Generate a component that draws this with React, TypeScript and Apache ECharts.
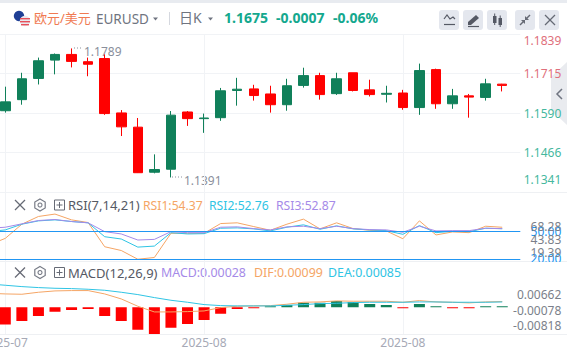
import React, { useEffect, useRef } from "react";
import * as echarts from "echarts";

// [open, close, low, high]
const candles = [
  [1.1598, 1.1626, 1.1592, 1.1674], [1.1633, 1.1699, 1.1617, 1.1718], [1.1700, 1.1756, 1.1681, 1.1766],
  [1.1758, 1.1776, 1.1713, 1.1779], [1.1776, 1.1754, 1.1735, 1.1795], [1.1753, 1.1745, 1.1707, 1.1766],
  [1.1763, 1.1589, 1.1585, 1.1776], [1.1591, 1.1547, 1.1518, 1.1600], [1.1546, 1.1402, 1.1401, 1.1575],
  [1.14035, 1.1412, 1.1400, 1.1460], [1.1413, 1.1584, 1.1387, 1.1597], [1.1594, 1.1573, 1.1550, 1.1597],
  [1.1573, 1.1575, 1.1528, 1.1589], [1.1576, 1.1661, 1.1566, 1.1670], [1.1662, 1.1666, 1.1614, 1.1702],
  [1.1667, 1.1646, 1.1630, 1.1680], [1.1651, 1.1617, 1.1592, 1.1677], [1.1617, 1.1677, 1.1598, 1.1699],
  [1.1678, 1.1709, 1.1671, 1.1734], [1.1709, 1.1649, 1.1633, 1.1718], [1.1652, 1.1699, 1.1648, 1.1718],
  [1.1718, 1.1662, 1.1659, 1.1718], [1.1664, 1.1649, 1.1643, 1.1696], [1.1650, 1.1653, 1.1624, 1.1677],
  [1.1654, 1.1608, 1.1601, 1.1664], [1.1608, 1.1725, 1.1585, 1.1747], [1.1728, 1.1620, 1.1604, 1.1731],
  [1.1620, 1.1645, 1.1604, 1.1667], [1.1645, 1.1641, 1.1576, 1.1651], [1.1640, 1.1683, 1.1630, 1.1699],
  [1.1682, 1.1678, 1.1659, 1.1683],
];
// Indicator lines start one session before the first visible candle.
const rsi1 = [35, 42.3, 57.7, 66.1, 68.7, 62.4, 59.5, 33.2, 29.1, 19.6, 21.5, 47.8, 47.8, 47.8, 58.4, 59.2, 55.1, 51.1, 57.7, 63.2, 52.6, 59.2, 52.9, 51.1, 50.4, 41.9, 61.3, 46.0, 49.3, 48.5, 55.5, 54.37];
const rsi2 = [49.6, 51.5, 57.7, 61.3, 62.4, 60.6, 59.2, 44.1, 41.6, 32.8, 33.9, 48.5, 47.1, 47.4, 53.3, 53.7, 52.6, 50.4, 54.4, 57.0, 52.2, 55.9, 52.6, 51.5, 50.7, 46.7, 56.2, 48.5, 50.0, 49.6, 53.3, 52.76];
const rsi3 = [53.3, 54.4, 58.1, 61.7, 62.8, 60.6, 59.2, 49.6, 47.1, 40.5, 41.2, 49.6, 48.5, 48.5, 54.4, 54.8, 52.9, 51.5, 54.8, 55.5, 52.9, 55.5, 52.9, 51.8, 51.5, 48.9, 55.5, 50.4, 50.7, 50.7, 53.3, 52.87];
const dif = [0.00428, 0.00408, 0.00398, 0.00459, 0.0050, 0.0051, 0.0051, 0.00408, 0.00255, 0.00031, -0.00143, -0.00143, -0.00133, -0.00112, -0.0001, 0.00031, 0.00041, 0.00051, 0.00092, 0.00153, 0.00163, 0.00194, 0.00184, 0.00184, 0.00184, 0.00153, 0.00204, 0.00163, 0.00153, 0.00133, 0.00163, 0.00173];
const dea = [0.00714, 0.00673, 0.00632, 0.00602, 0.00581, 0.00571, 0.00551, 0.0052, 0.00459, 0.00388, 0.00296, 0.00214, 0.00153, 0.00082, 0.00051, 0.00041, 0.00041, 0.00041, 0.00061, 0.00082, 0.00112, 0.00122, 0.00143, 0.00153, 0.00153, 0.00153, 0.00163, 0.00163, 0.00153, 0.00153, 0.00153, 0.00163];
const macd = [-0.0053, -0.0042, -0.0027, -0.0014, -0.0008, -0.0005, -0.0027, -0.0042, -0.0069, -0.0082, -0.0063, -0.0051, -0.0039, -0.0020, -0.0005, -0.0003, 0.0003, 0.0007, 0.0014, 0.0014, 0.0019, 0.0016, 0.0010, 0.0007, -0.0003, 0.0010, 0.0003, -0.0003, -0.0003, 0.0003, 0.00028];

const priceTicks = [1.1341, 1.1466, 1.1590, 1.1715, 1.1839];
const rsiLevels = [20, 50];
const rsiTicks = [19.39, 43.83, 68.28];
const macdTicks = [-0.00818, -0.00078, 0.00662];
const dateTicks = [0, 12, 24];
const dateLabels = ["2025-07", "2025-08", "2025-08"];

const RED = "#ff0000";
const GREEN = "#10805a";
const ORANGE = "#f5a565";
const CYAN = "#2fc4e4";
const PURPLE = "#a58ae8";
const BLUE = "#2196f3";
const GRID = "#f1f3f6";
const FONT = '"Noto Sans", "Noto Sans CJK SC", sans-serif';

const xRange = { min: -0.32, max: 31.09 };
const gridBox = (top: number, bottom: number) => ({ left: 0, width: 520.3, top, height: bottom - top, outerBoundsMode: "none" });

const txt = (x: number, y: number, text: string, fill: string, size = 13, weight = "normal", textAlign = "left") => ({
  type: "text", x, y, silent: true,
  style: { text, fill, textAlign, textVerticalAlign: "middle", font: `${weight} ${size}px ${FONT}` },
});
const ln = (x1: number, y1: number, x2: number, y2: number, stroke: string, lineWidth = 1, extra: any = {}) => ({
  type: "line", silent: true, shape: { x1, y1, x2, y2 }, style: { stroke, lineWidth, ...extra },
});
const btn = (x: number) => ({ type: "rect", silent: true, shape: { x, y: 10, width: 20, height: 20, r: 3 }, style: { fill: "#e4e7ee" } });
const tools = (y: number) => [
  ln(15, y - 5, 25, y + 5, "#666a75", 1.2), ln(25, y - 5, 15, y + 5, "#666a75", 1.2),
  { type: "polygon", silent: true, shape: { points: [[40, y - 6], [45.2, y - 3], [45.2, y + 3], [40, y + 6], [34.8, y + 3], [34.8, y - 3]] }, style: { fill: "none", stroke: "#777b86", lineWidth: 1.2 } },
  { type: "circle", silent: true, shape: { cx: 40, cy: y, r: 2 }, style: { fill: "none", stroke: "#777b86", lineWidth: 1.1 } },
  { type: "rect", silent: true, shape: { x: 54.5, y: y - 5, width: 10, height: 10 }, style: { fill: "none", stroke: "#666a75", lineWidth: 1 } },
  ln(56.5, y, 62.5, y, "#666a75"), ln(59.5, y - 3, 59.5, y + 3, "#666a75"),
];

const graphicElements: any[] = [
  { type: "rect", silent: true, shape: { x: 0, y: 0, width: 567, height: 3 }, style: { fill: "#e8ebf0" } },
  ln(0, 34.5, 520, 34.5, GRID), ln(0, 192.5, 567, 192.5, "#eef0f3"), ln(0, 261.5, 567, 261.5, "#eef0f3"), ln(0, 334.5, 567, 334.5, "#eef0f3"),
  // clips the lower RSI level label at the pane edge
  { type: "rect", silent: true, z: 50, shape: { x: 521, y: 262, width: 46, height: 9 }, style: { fill: "#ffffff" } },
  // flags
  { type: "circle", silent: true, shape: { cx: 19, cy: 16, r: 5.2 }, style: { fill: "#1f3f95" } },
  { type: "circle", silent: true, shape: { cx: 25, cy: 21, r: 5.2 }, style: { fill: "#e8e8ee" } },
  { type: "rect", silent: true, shape: { x: 20, y: 18, width: 10, height: 1.4 }, style: { fill: "#e8505a" } },
  { type: "rect", silent: true, shape: { x: 20, y: 21, width: 10, height: 1.4 }, style: { fill: "#e8505a" } },
  { type: "rect", silent: true, shape: { x: 21, y: 24, width: 8, height: 1.4 }, style: { fill: "#e8505a" } },
  txt(34, 18, "欧元/美元", "#f07a52", 13),
  txt(96, 19, "EURUSD", "#6f7480", 13.5),
  { type: "polygon", silent: true, shape: { points: [[153, 17.5], [158, 17.5], [155.5, 20.5]] }, style: { fill: "#6f7480" } },
  ln(169.5, 12, 169.5, 25, "#d5d8df"),
  txt(179, 17, "日K", "#6f7480", 14),
  { type: "polygon", silent: true, shape: { points: [[208, 17.5], [213, 17.5], [210.5, 20.5]] }, style: { fill: "#6f7480" } },
  txt(224, 17, "1.1675", "#14a88e", 14, "bold"),
  txt(276, 17, "-0.0007", "#14a88e", 14, "bold"),
  txt(333, 17, "-0.06%", "#14a88e", 14, "bold"),
  btn(439), btn(463), btn(487), btn(515), btn(539),
  { type: "polyline", silent: true, shape: { points: [[444, 19], [447, 15], [450, 19], [453, 17], [455, 19]] }, style: { fill: "none", stroke: "#555964", lineWidth: 1.2 } },
  ln(444, 24.5, 455, 24.5, "#555964", 1.2),
  { type: "polygon", silent: true, shape: { points: [[468, 22], [476, 15], [479, 18], [471, 25], [468, 25]] }, style: { fill: "#555964" } },
  ln(468, 26.5, 479, 26.5, "#555964", 1.2),
  { type: "rect", silent: true, shape: { x: 493, y: 16, width: 3.5, height: 7 }, style: { fill: "#555964" } },
  { type: "rect", silent: true, shape: { x: 498.5, y: 18, width: 3.5, height: 7 }, style: { fill: "#555964" } },
  ln(494.7, 13.5, 494.7, 25, "#555964"), ln(500.2, 15.5, 500.2, 27, "#555964"),
  ln(520, 25, 524, 21, "#666a75", 1.5), ln(526, 19, 530, 15, "#666a75", 1.5),
  { type: "polygon", silent: true, shape: { points: [[521, 20], [525, 20], [525, 24]] }, style: { fill: "#666a75" } },
  { type: "polygon", silent: true, shape: { points: [[525, 16], [529, 20], [525, 20]] }, style: { fill: "#666a75" } },
  ln(545, 15, 555, 25, "#666a75", 1.2), ln(555, 15, 545, 25, "#666a75", 1.2),
  { type: "polygon", silent: true, shape: { points: [[567, 62], [551, 77], [551, 110], [567, 125]] }, style: { fill: "#e9ebef" } },
  { type: "polyline", silent: true, shape: { points: [[562, 89], [557, 94], [562, 99]] }, style: { fill: "none", stroke: "#6f7480", lineWidth: 1.5 } },
  // extreme markers
  ln(74, 48, 83, 48, "#8a8f9c", 1, { lineDash: [1, 2] }), txt(84, 51, "1.1789", "#8a8f9c", 12),
  ln(172, 177, 182, 177, "#8a8f9c", 1, { lineDash: [1, 2] }), txt(184, 180, "1.1391", "#8a8f9c", 12),
  // RSI legend
  ...tools(205),
  txt(68, 205, "RSI(7,14,21)", "#555964", 13),
  txt(143, 205, "RSI1:54.37", ORANGE, 12.2), txt(209, 205, "RSI2:52.76", CYAN, 12.2), txt(276, 205, "RSI3:52.87", PURPLE, 12.2),
  // MACD legend
  ...tools(272.5),
  txt(68, 272.5, "MACD(12,26,9)", "#555964", 13),
  txt(161, 272.5, "MACD:0.00028", PURPLE, 12.4), txt(254, 272.5, "DIF:0.00099", ORANGE, 12.4), txt(328, 272.5, "DEA:0.00085", CYAN, 12.4),
];

const hiddenX = (gridIndex: number, split = true) => ({
  type: "value", gridIndex, ...xRange,
  axisLine: { show: false }, axisLabel: { show: false },
  axisTick: { show: false, customValues: dateTicks },
  splitLine: { show: split, lineStyle: { color: GRID, width: 1 } },
});

const labelAxis = (gridIndex: number, min: number, max: number, ticks: number[], digits: number, color: any, extra: any = {}) => ({
  type: "value", gridIndex, position: "right", min, max,
  axisLine: { show: false },
  axisTick: { show: false, customValues: ticks },
  splitLine: { show: false },
  axisLabel: {
    customValues: ticks, align: "right", margin: 41, color,
    fontFamily: FONT, fontSize: 12, showMinLabel: true, showMaxLabel: true, hideOverlap: false,
    formatter: (v: any) => Number(v).toFixed(digits),
  },
  ...extra,
});

const xy = (arr: number[], first: number) => arr.map((v, i) => [i + first, v]);
const lineSeries = (name: string, data: number[], color: string, xAxisIndex: number, yAxisIndex: number, extra: any = {}) => ({
  name, type: "line", xAxisIndex, yAxisIndex, data: xy(data, -1), showSymbol: false, symbol: "none",
  lineStyle: { color, width: 1 }, itemStyle: { color }, z: 3, ...extra,
});

// A custom series, since bar series widen a value axis' extent past its set min and max.
const renderMacdBar = (_params: any, api: any) => {
  const i = api.value(0);
  const v = api.value(1);
  const [x, y0] = api.coord([i, 0]);
  const [, y1] = api.coord([i, v]);
  const h = Math.abs(y1 - y0);
  return {
    type: "rect",
    shape: { x: x - 5.5, y: Math.min(y0, y1), width: 11, height: Math.max(h, 1) },
    style: { fill: v < 0 ? RED : GREEN },
  };
};

export default function App() {
  const ref = useRef<HTMLDivElement>(null);
  useEffect(() => {
    document.body.style.margin = "0";
    const chart = echarts.init(ref.current!, undefined, { renderer: "svg" });
    chart.setOption({
      animation: false,
      backgroundColor: "#ffffff",
      textStyle: { fontFamily: FONT },
      grid: [gridBox(34.5, 192), gridBox(192, 261.5), gridBox(261.5, 334), gridBox(192, 261.5), gridBox(261.5, 334)],
      xAxis: [
        hiddenX(0), hiddenX(1),
        {
          type: "value", gridIndex: 2, ...xRange,
          axisLine: { show: false },
          axisTick: { show: false, customValues: dateTicks },
          splitLine: { show: true, lineStyle: { color: GRID, width: 1 } },
          axisLabel: {
            customValues: dateTicks, margin: 2, color: "#a6a9b6", fontFamily: FONT, fontSize: 12,
            showMinLabel: true, showMaxLabel: true, hideOverlap: false,
            formatter: (v: any) => dateLabels[dateTicks.indexOf(Number(v))] ?? "",
          },
        },
        hiddenX(3, false), hiddenX(4, false),
      ],
      yAxis: [
        labelAxis(0, 1.1341, 1.1839, priceTicks, 4, "#000", {
          axisLine: { show: true, lineStyle: { color: GRID } },
          splitLine: { show: true, lineStyle: { color: GRID, width: 1 } },
          axisLabel: {
            customValues: priceTicks, align: "right", margin: 41,
            color: (v: any) => (Number(v) > 1.165 ? "#e0707c" : "#45b89e"),
            fontFamily: FONT, fontSize: 12, verticalAlignMaxLabel: "top", verticalAlignMinLabel: "bottom",
            showMinLabel: true, showMaxLabel: true, hideOverlap: false,
            formatter: (v: any) => (Number(v) < 1.14 ? `{low|${Number(v).toFixed(4)}}` : Number(v).toFixed(4)),
            rich: { low: { padding: [0, 0, 7, 0], color: "#45b89e", fontFamily: FONT, fontSize: 12 } },
          },
        }),
        labelAxis(1, 17.15, 92.7, rsiLevels, 2, BLUE),
        labelAxis(2, -0.00818, 0.014, [], 5, "#000", { axisLabel: { show: false } }),
        labelAxis(3, 1.2, 136.2, rsiTicks, 2, "#7b7f8a"),
        labelAxis(4, -0.0121, 0.02246, macdTicks, 5, "#7b7f8a"),
      ],
      series: [
        {
          type: "candlestick", xAxisIndex: 0, yAxisIndex: 0, barWidth: 10,
          data: candles.map((c, i) => [i, ...c]),
          itemStyle: { color: GREEN, color0: RED, borderColor: GREEN, borderColor0: RED, borderWidth: 1 },
        },
        lineSeries("RSI1", rsi1, ORANGE, 1, 1),
        lineSeries("RSI2", rsi2, CYAN, 1, 1),
        lineSeries("RSI3", rsi3, PURPLE, 1, 1, {
          markLine: {
            silent: true, symbol: "none", label: { show: false },
            lineStyle: { color: BLUE, width: 1, type: "solid" },
            data: rsiLevels.map((v) => ({ yAxis: v })),
          },
        }),
        {
          name: "MACD", type: "custom", xAxisIndex: 2, yAxisIndex: 2, clip: true,
          data: xy(macd, 0), encode: { x: 0, y: 1 },
          renderItem: renderMacdBar,
        },
        lineSeries("DIF", dif, ORANGE, 2, 2),
        lineSeries("DEA", dea, CYAN, 2, 2),
      ],
      graphic: { elements: graphicElements },
    });
    return () => chart.dispose();
  }, []);
  return <div ref={ref} style={{ width: 567, height: 356 }} />;
}
